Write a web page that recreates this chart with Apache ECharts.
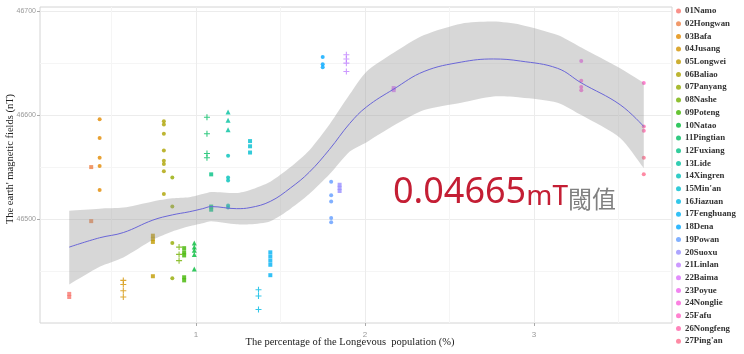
<!DOCTYPE html>
<html><head><meta charset="utf-8">
<script src="https://cdn.jsdelivr.net/npm/echarts@6/dist/echarts.min.js"></script>
<style>html,body{margin:0;padding:0;background:#fff}#c{width:744px;height:354px}</style>
</head><body><div id="c"></div>
<script>
// ---- data ----
const siteNames = ["01Namo","02Hongwan","03Bafa","04Jusang","05Longwei","06Baliao","07Panyang","08Nashe","09Poteng","10Natao","11Pingtian","12Fuxiang","13Lide","14Xingren","15Min'an","16Jiazuan","17Fenghuang","18Dena","19Powan","20Suoxu","21Linlan","22Baima","23Poyue","24Nonglie","25Fafu","26Nongfeng","27Ping'an"];
const siteX = [0.25,0.38,0.43,0.57,0.745,0.81,0.86,0.90,0.93,0.99,1.065,1.09,1.19,1.19,1.32,1.37,1.44,1.75,1.80,1.85,1.89,2.17,3.28,3.28,3.65,3.65,3.65];
const siteY = [
  [46428,46425],
  [46498,46550],
  [46596,46578,46559,46551,46528],
  [46441,46437,46431,46425],
  [46484,46481,46478,46445],
  [46594,46591,46582,46566,46556,46553,46546,46524],
  [46540,46512,46477,46443],
  [46473,46466,46460],
  [46472,46468,46465,46444,46441],
  [46477,46473,46452,46470,46466],
  [46598,46582,46563,46559],
  [46543,46512,46509],
  [46603,46595,46586],
  [46561,46540,46537,46513,46511],
  [46575,46570,46564],
  [46432,46426,46413],
  [46468,46464,46460,46456,46446],
  [46656,46649,46646],
  [46536,46523,46517,46501,46497],
  [46533,46530,46527],
  [46658,46654,46650,46642],
  [46626,46624],
  [46652],
  [46633,46627,46624],
  [46631],
  [46589,46585],
  [46559,46543]
];
const siteShapes = ["rect","rect","circle","plus","rect","circle","circle","plus","rect","triangle","plus","rect","triangle","circle","rect","plus","rect","circle","circle","rect","plus","rect","circle","circle","circle","circle","circle"];

const fitX     = [0.25, 0.43, 0.57, 0.745, 0.86, 0.96, 1.04, 1.09, 1.24, 1.32, 1.44, 1.56, 1.67, 1.79, 1.91, 2.01, 2.17, 2.35, 2.57, 2.76, 2.92, 3.14, 3.28, 3.51, 3.65];
const fitY     = [46473,46482,46487,46499,46504,46507,46510,46512,46510,46511,46517,46530,46545,46567,46592,46608,46625,46642,46651,46654,46652,46645,46631,46610,46589];
const fitLower = [46437,46454,46463,46480,46488,46493,46496,46498,46495,46495,46498,46510,46524,46543,46565,46574,46590,46605,46612,46618,46617,46612,46600,46578,46549];
const fitUpper = [46508,46510,46511,46517,46520,46521,46524,46526,46525,46528,46536,46550,46566,46591,46620,46642,46660,46677,46688,46690,46687,46677,46665,46645,46631];

const xTicks = [1,2,3];
const yTicks = [46500,46600,46700];
const xMinor = [0.5,1.5,2.5,3.5];
const yMinor = [46450,46550,46650];

// ---- ggplot hue palette ----
function hcl(h,c,l){
  const hr=h*Math.PI/180, U=c*Math.cos(hr), V=c*Math.sin(hr);
  const Xn=95.047,Yn=100,Zn=108.883;
  const d=Xn+15*Yn+3*Zn, un=4*Xn/d, vn=9*Yn/d;
  const Y = l>8 ? Yn*Math.pow((l+16)/116,3) : Yn*l/903.3;
  const u=U/(13*l)+un, v=V/(13*l)+vn;
  const X=9*Y*u/(4*v), Z=Y*(12-3*u-20*v)/(4*v);
  const x=X/100,y=Y/100,z=Z/100;
  const lin=[3.2404542*x-1.5371385*y-0.4985314*z,-0.9692660*x+1.8760108*y+0.0415560*z,0.0556434*x-0.2040259*y+1.0572252*z];
  const ch=lin.map(t=>{t=t<=0.0031308?12.92*t:1.055*Math.pow(t,1/2.4)-0.055;t=Math.max(0,Math.min(1,t));return Math.round(t*255);});
  return 'rgb('+ch.join(',')+')';
}
const colors = siteNames.map((n,i)=>hcl(15+i*360/27,100,65));
const PLUS='path://M0,4.1H10V5.9H0ZM4.1,0H5.9V10H4.1Z';
const symMap={rect:['rect',4],circle:['circle',4],triangle:['triangle',5],plus:[PLUS,6]};

const scatterSeries = siteNames.map((name,i)=>({
  type:'scatter', name:name, xAxisIndex:0, yAxisIndex:0,
  symbol:symMap[siteShapes[i]][0], symbolSize:symMap[siteShapes[i]][1],
  itemStyle:{color:colors[i], opacity:0.8},
  data: siteY[i].map(v=>[siteX[i],v]), z:2
}));

const bandData = fitX.map((x,i)=>[x,fitLower[i],fitUpper[i]]);
const fitLine  = fitX.map((x,i)=>[x,fitY[i]]);

const chart = echarts.init(document.getElementById('c'),null,{renderer:'canvas'});
const serif = 'Liberation Serif';
chart.setOption({
  animation:false,
  backgroundColor:'#fff',
  grid:{left:40, top:7, width:632, height:316, show:true, borderColor:'#d4d4d4', borderWidth:1, backgroundColor:'#fff'},
  xAxis:[
    {type:'value', min:0.077, max:3.817, position:'bottom',
     axisLine:{show:false},
     axisTick:{show:true, customValues:xTicks, length:3, lineStyle:{color:'#aaa'}},
     axisLabel:{customValues:xTicks, fontSize:8, color:'#999', margin:8, fontFamily:'Liberation Sans'},
     splitLine:{show:true, lineStyle:{color:'#ececec', width:1}}},
    {type:'value', min:0.077, max:3.817, position:'bottom',
     axisLine:{show:false}, axisTick:{show:false, customValues:xMinor},
     axisLabel:{show:false, customValues:xMinor},
     splitLine:{show:true, lineStyle:{color:'#f5f5f5', width:1}}}
  ],
  yAxis:[
    {type:'value', min:46400, max:46704,
     axisLine:{show:false},
     axisTick:{show:true, customValues:yTicks, length:3, lineStyle:{color:'#aaa'}},
     axisLabel:{customValues:yTicks, fontSize:7, color:'#999', margin:4, fontFamily:'Liberation Sans',
       formatter:v=>String(v)},
     splitLine:{show:true, lineStyle:{color:'#ececec', width:1}}},
    {type:'value', min:46400, max:46704,
     axisLine:{show:false}, axisTick:{show:false, customValues:yMinor},
     axisLabel:{show:false, customValues:yMinor},
     splitLine:{show:true, lineStyle:{color:'#f5f5f5', width:1}}}
  ],
  legend:{
    orient:'vertical', left:676, top:5, padding:0, itemGap:0.7,
    itemWidth:5, itemHeight:5, icon:'circle',
    data:siteNames,
    textStyle:{fontFamily:serif, fontWeight:'bold', fontSize:8.8, color:'#333', lineHeight:12, padding:[0,0,0,-1]}
  },
  series:[
    ...scatterSeries,
    {type:'custom', name:'ci', silent:true, xAxisIndex:0, yAxisIndex:0, z:3,
     data:bandData,
     renderItem:function(params, api){
       if (params.dataIndex !== 0) return null;
       const up = bandData.map(d=>api.coord([d[0],d[2]]));
       const lo = bandData.map(d=>api.coord([d[0],d[1]])).reverse();
       // repeat the corner points so the smoothing keeps the vertical ends straight
       const pts = [up[0]].concat(up, [up[up.length-1], lo[0]], lo, [lo[lo.length-1]]);
       return {type:'group', children:[
         {type:'polygon', shape:{points:pts, smooth:0.25},
          style:{fill:'rgba(150,150,150,0.38)', stroke:null}}]};
     }},
    {type:'line', name:'fit', data:fitLine, smooth:0.4, symbol:'none', silent:true,
     lineStyle:{color:'#6a66d8', width:1}, xAxisIndex:0, yAxisIndex:0, z:4}
  ],
  graphic:[
    {type:'text', left:393, top:175, z:10,
     style:{text:'{a|0.04665}{b|mT}{c|閾值}',
       rich:{
         a:{fontFamily:'Noto Sans', fontSize:36, fill:'#c41e34', lineHeight:42, verticalAlign:'bottom'},
         b:{fontFamily:'Noto Sans', fontSize:28, fill:'#c41e34', lineHeight:34, verticalAlign:'bottom'},
         c:{fontFamily:'Noto Sans CJK SC', fontSize:24, fill:'#808080', lineHeight:32, verticalAlign:'bottom'}
       }}},
    {type:'text', x:350, y:337, z:10,
     style:{text:'The percentage of the Longevous  population (%)', fontFamily:serif, fontSize:10.5, fill:'#222', align:'center'}},
    {type:'text', x:10, y:159, rotation:Math.PI/2, z:10,
     style:{text:"The earth' magnetic fields (nT)", fontFamily:serif, fontSize:10.5, fill:'#222', align:'center', verticalAlign:'middle'}}
  ]
});
</script></body></html>
